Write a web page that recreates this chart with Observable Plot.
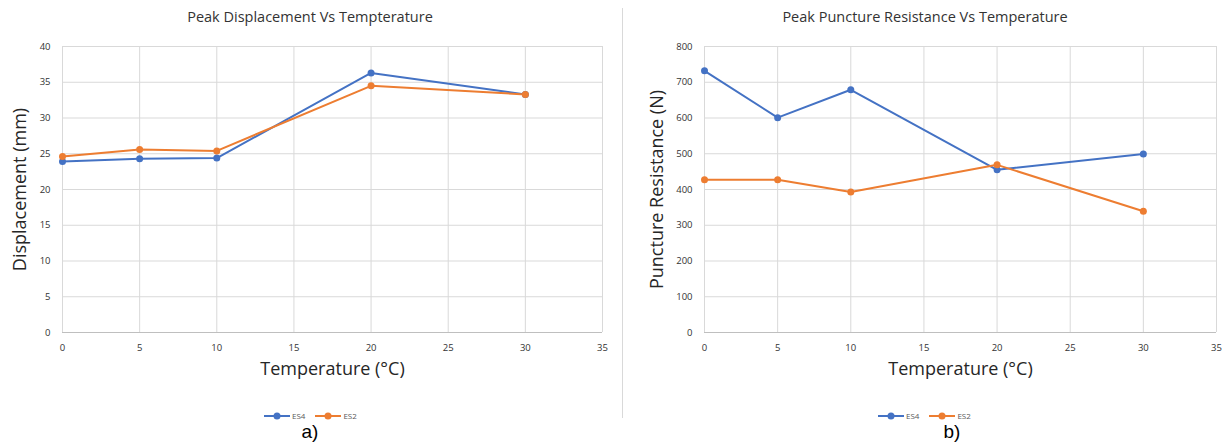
<!DOCTYPE html>
<html>
<head>
<meta charset="utf-8">
<script src="https://cdn.jsdelivr.net/npm/d3@7"></script>
<script src="https://cdn.jsdelivr.net/npm/@observablehq/plot@0.6"></script>
<style>
  html, body { margin:0; padding:0; background:#fff; }
  #root { position:relative; width:1230px; height:446px; overflow:hidden; font-family:"Open Sans", sans-serif; }
  .panel { position:absolute; top:0; overflow:hidden; }
  .title { position:absolute; top:7px; width:100%; text-align:center; font-size:14.5px; color:#333; }
  .svgwrap { position:absolute; top:30px; left:0; }
  .legend { position:absolute; top:410px; display:flex; gap:10px; font-size:8px; color:#595959; align-items:center; }
  .legend span { display:flex; align-items:center; gap:2px; }
  .tag { position:absolute; top:421px; font-family:Arial, "Liberation Sans", sans-serif; font-size:19px; color:#000; transform:translateX(-50%); }
  .sep { position:absolute; left:622px; top:8px; width:1px; height:410px; background:#d9d9d9; }
</style>
</head>
<body>
<div id="root"></div>
<script>
const temps = [0, 5, 10, 20, 30];
const seriesNames = ["ES4", "ES2"];
const seriesColors = ["#4472C4", "#ED7D31"];
const xTicks = [0, 5, 10, 15, 20, 25, 30, 35];

const dispES4 = [23.9, 24.3, 24.4, 36.3, 33.3];
const dispES2 = [24.6, 25.6, 25.4, 34.5, 33.3];
const dispTicks = [0, 5, 10, 15, 20, 25, 30, 35, 40];

const punctES4 = [732, 601, 679, 455, 499];
const punctES2 = [427, 427, 393, 469, 339];
const punctTicks = [0, 100, 200, 300, 400, 500, 600, 700, 800];

function rows(a, b) {
  const out = [];
  temps.forEach((t, i) => out.push({t, v: a[i], s: seriesNames[0]}));
  temps.forEach((t, i) => out.push({t, v: b[i], s: seriesNames[1]}));
  return out;
}

function makeChart({data, yTicks, width, marginLeft, marginRight, yLabel, yLabelX}) {
  return Plot.plot({
    width, height: 362,
    marginTop: 16, marginBottom: 60, marginLeft, marginRight,
    x: {domain: [0, 35], ticks: xTicks},
    y: {domain: [yTicks[0], yTicks[yTicks.length - 1]], ticks: yTicks},
    color: {domain: seriesNames, range: seriesColors},
    style: {fontFamily: "'Open Sans', sans-serif", fontSize: "9.5px", color: "#333", background: "transparent"},
    marks: [
      Plot.gridX(xTicks, {stroke: "#d9d9d9", strokeOpacity: 1}),
      Plot.gridY(yTicks, {stroke: "#d9d9d9", strokeOpacity: 1}),
      Plot.ruleY([yTicks[0]], {stroke: "#bfbfbf"}),
      Plot.axisX(xTicks, {tickSize: 0, tickPadding: 12, label: null}),
      Plot.axisY(yTicks, {tickSize: 0, tickPadding: 12, label: null}),
      Plot.text(["Temperature (°C)"], {frameAnchor: "bottom", dy: 42, fontSize: 18, fill: "#262626"}),
      Plot.text([yLabel], {frameAnchor: "left", textAnchor: "middle", rotate: -90, dx: yLabelX - marginLeft, fontSize: 18, fill: "#262626"}),
      Plot.line(data, {x: "t", y: "v", stroke: "s", strokeWidth: 2}),
      Plot.dot(data, {x: "t", y: "v", fill: "s", r: 3.5})
    ]
  });
}

function legendHTML() {
  return seriesNames.map((n, i) =>
    `<span><svg width="26" height="10"><line x1="0" x2="26" y1="5" y2="5" stroke="${seriesColors[i]}" stroke-width="2"/><circle cx="13" cy="5" r="3.5" fill="${seriesColors[i]}"/></svg>${n}</span>`
  ).join("");
}

const root = document.getElementById("root");

function addPanel({left, width, height, title, chart, legendLeft, tag, tagX}) {
  const p = document.createElement("div");
  p.className = "panel";
  p.style.left = left + "px";
  p.style.width = width + "px";
  p.style.height = height + "px";
  const t = document.createElement("div");
  t.className = "title";
  t.textContent = title;
  p.appendChild(t);
  const w = document.createElement("div");
  w.className = "svgwrap";
  w.appendChild(chart);
  p.appendChild(w);
  const lg = document.createElement("div");
  lg.className = "legend";
  lg.style.left = legendLeft + "px";
  lg.innerHTML = legendHTML();
  p.appendChild(lg);
  root.appendChild(p);
  const tg = document.createElement("div");
  tg.className = "tag";
  tg.style.left = tagX + "px";
  tg.textContent = tag;
  root.appendChild(tg);
}

addPanel({
  left: 0, width: 620, height: 446,
  title: "Peak Displacement Vs Tempterature",
  chart: makeChart({data: rows(dispES4, dispES2), yTicks: dispTicks, width: 620, marginLeft: 62, marginRight: 18, yLabel: "Displacement (mm)", yLabelX: 20}),
  legendLeft: 264, tag: "a)", tagX: 310
});

addPanel({
  left: 620, width: 610, height: 446,
  title: "Peak Puncture Resistance Vs Temperature",
  chart: makeChart({data: rows(punctES4, punctES2), yTicks: punctTicks, width: 610, marginLeft: 84, marginRight: 14, yLabel: "Puncture Resistance (N)", yLabelX: 37}),
  legendLeft: 258, tag: "b)", tagX: 952
});

const sep = document.createElement("div");
sep.className = "sep";
root.appendChild(sep);
</script>
</body>
</html>
